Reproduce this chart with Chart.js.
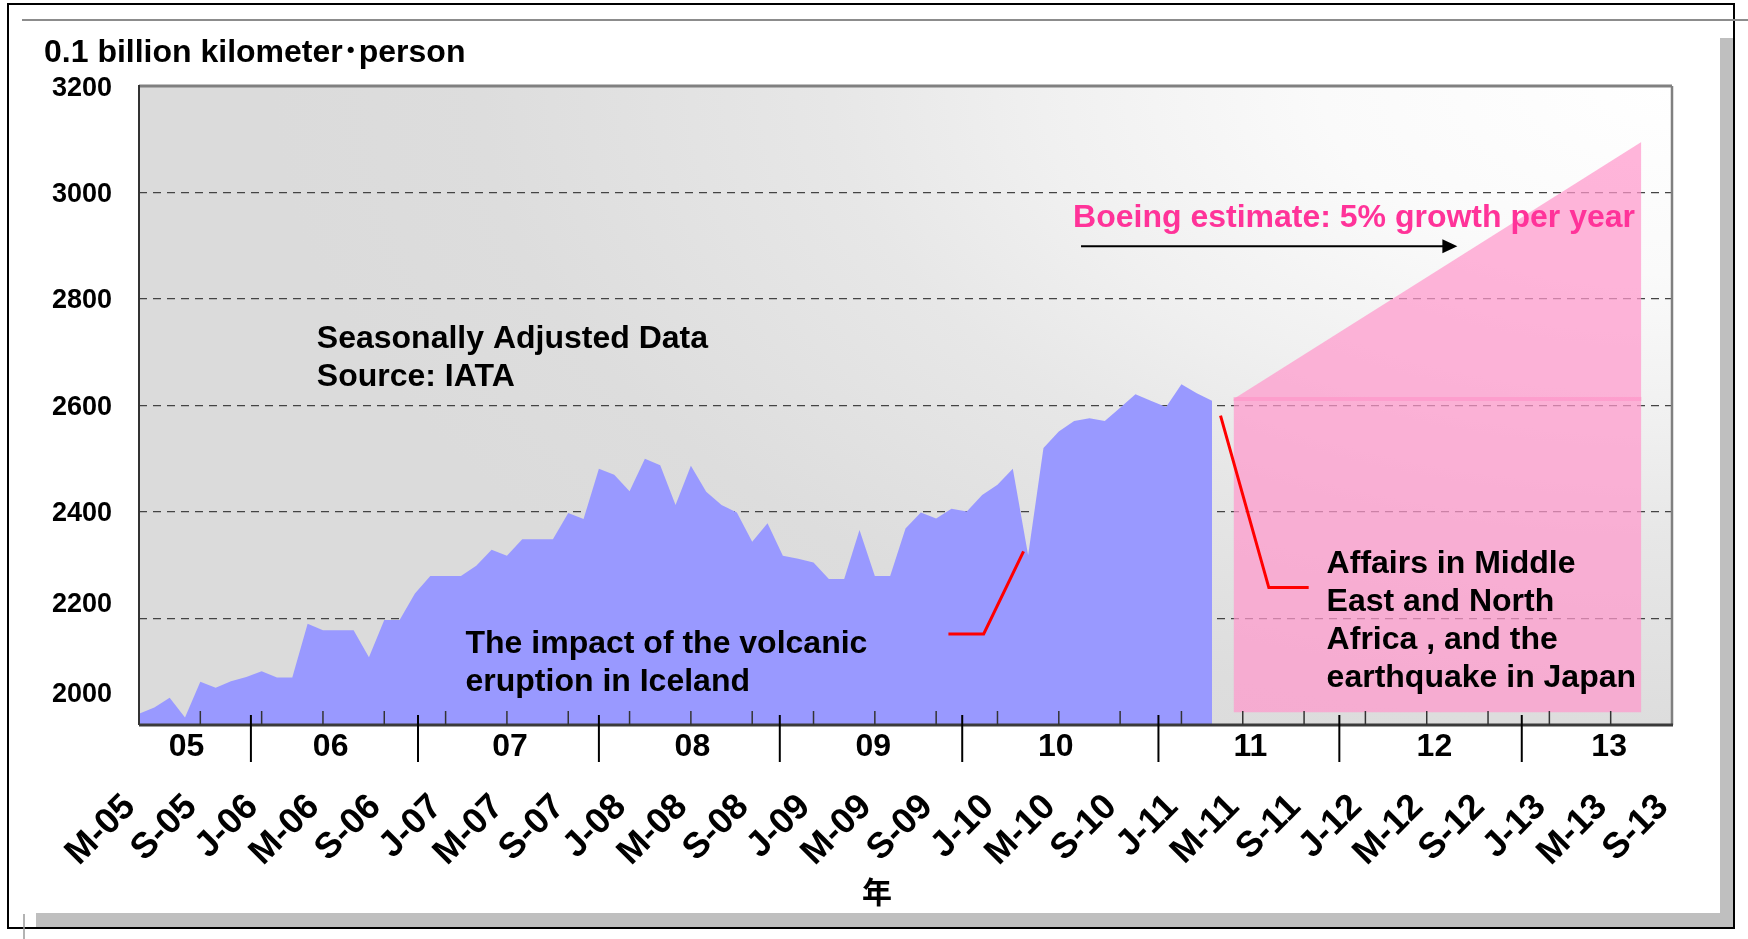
<!DOCTYPE html>
<html>
<head>
<meta charset="utf-8">
<title>International passenger traffic</title>
<script src="https://cdn.jsdelivr.net/npm/chart.js@4.4.1/dist/chart.umd.min.js"></script>
<style>
  html, body { margin: 0; padding: 0; background: #fff; }
  #wrap { width: 1748px; height: 939px; }
</style>
</head>
<body>
<div id="wrap"><canvas id="paxChart" width="1748" height="939"></canvas></div>
<script>
// seasonally adjusted traffic, 0.1 billion km-person, monthly from May-05 to Mar-11
const traffic = [
  2021, 2033, 2051, 2014, 2081, 2070, 2082, 2090, 2101, 2089,
  2089, 2190, 2178, 2178, 2178, 2127, 2197, 2197, 2247, 2280,
  2280, 2280, 2299, 2329, 2318, 2349, 2349, 2349, 2398, 2387,
  2481, 2470, 2439, 2500, 2488, 2413, 2487, 2438, 2413, 2399,
  2344, 2379, 2318, 2312, 2305, 2274, 2274, 2366, 2280, 2280,
  2369, 2399, 2388, 2406, 2401, 2432, 2451, 2481, 2319, 2520,
  2551, 2571, 2576, 2571, 2596, 2621, 2609, 2597, 2640, 2623, 2609
];

// one label every 4 months
const tickLabels = ['M-05', 'S-05', 'J-06', 'M-06', 'S-06', 'J-07', 'M-07', 'S-07', 'J-08',
  'M-08', 'S-08', 'J-09', 'M-09', 'S-09', 'J-10', 'M-10', 'S-10', 'J-11', 'M-11', 'S-11',
  'J-12', 'M-12', 'S-12', 'J-13', 'M-13', 'S-13'];
const yearLabels = ['05', '06', '07', '08', '09', '10', '11', '12', '13'];
const yTickValues = [2000, 2200, 2400, 2600, 2800, 3000, 3200];

// Boeing projection band (month index / value)
const forecastX = [71.4, 98];
const forecastBase = [2612, 2612];
const forecastTop = [2612, 3095];
const forecastFloor = 2024;

const FONT = "'Liberation Sans', Arial, 'Noto Sans CJK JP', sans-serif";

function seg(ctx, pts) {
  ctx.beginPath();
  pts.forEach((p, i) => i ? ctx.lineTo(p[0], p[1]) : ctx.moveTo(p[0], p[1]));
  ctx.stroke();
}

const decor = {
  id: 'decor',
  beforeDraw(chart, args, o) {
    const { ctx, chartArea: a } = chart;
    ctx.save();
    ctx.fillStyle = '#fff';
    ctx.fillRect(0, 0, chart.width, chart.height);
    // drop shadow of the slide frame
    ctx.fillStyle = '#bfbfbf';
    ctx.fillRect(1720, 38, 14, 890);
    ctx.fillRect(36, 913, 1698, 15);
    ctx.strokeStyle = '#000';
    ctx.lineWidth = 2;
    ctx.strokeRect(8, 4, 1726, 924);
    ctx.strokeStyle = '#8c8c8c';
    seg(ctx, [[22, 20], [1748, 20]]);
    ctx.strokeStyle = '#9a9a9a';
    ctx.lineWidth = 1.5;
    seg(ctx, [[24, 914], [24, 939]]);

    // plot background: light in the top-right corner, grey elsewhere
    ctx.beginPath();
    ctx.rect(a.left, a.top, a.width, a.height);
    ctx.clip();
    ctx.translate(a.right, a.top);
    ctx.scale(1400, 750);
    const g = ctx.createRadialGradient(0, 0, 0, 0, 0, 1);
    g.addColorStop(0, '#ffffff');
    g.addColorStop(0.25, '#fafafa');
    g.addColorStop(0.45, '#f0f0f0');
    g.addColorStop(0.6, '#e7e7e7');
    g.addColorStop(0.85, '#dddddd');
    g.addColorStop(1, '#dbdbdb');
    ctx.fillStyle = g;
    ctx.fillRect(-2, -1, 3, 3);
    ctx.restore();
  },
  afterDraw(chart, args, o) {
    const { ctx, chartArea: a } = chart;
    const xs = chart.scales.x, ys = chart.scales.y;
    const P = (i, v) => [xs.getPixelForValue(i), ys.getPixelForValue(v)];
    ctx.save();

    // plot frame
    ctx.lineCap = 'butt';
    ctx.strokeStyle = '#808080';
    ctx.lineWidth = 3;
    seg(ctx, [[a.left, a.top], [a.right, a.top]]);
    ctx.lineWidth = 2.5;
    seg(ctx, [[a.right, a.top], [a.right, a.bottom]]);
    ctx.strokeStyle = '#333';
    ctx.lineWidth = 2;
    seg(ctx, [[a.left, a.top - 1], [a.left, a.bottom]]);
    ctx.strokeStyle = '#3a3a3a';
    ctx.lineWidth = 3;
    seg(ctx, [[a.left, a.bottom], [a.right + 1, a.bottom]]);

    // inward minor ticks every 4 months
    ctx.lineWidth = 1.5;
    ctx.strokeStyle = '#333';
    for (let m = 4; m < 100; m += 4) {
      const x = xs.getPixelForValue(m);
      seg(ctx, [[x, a.bottom - 14], [x, a.bottom]]);
    }

    // year band under the axis
    ctx.strokeStyle = '#000';
    ctx.lineWidth = 2;
    o.yearSepAt.forEach(m => {
      const x = xs.getPixelForValue(m);
      seg(ctx, [[x, a.bottom - 10], [x, a.bottom + 37]]);
    });
    ctx.fillStyle = '#000';
    ctx.font = 'bold 32px ' + FONT;
    ctx.textAlign = 'center';
    ctx.textBaseline = 'middle';
    yearLabels.forEach((t, i) => ctx.fillText(t, xs.getPixelForValue(o.yearLabelAt[i]), a.bottom + 22));

    // y tick labels (the two lowest sit a little above their lines)
    ctx.font = 'bold 27px ' + FONT;
    ctx.textAlign = 'right';
    yTickValues.forEach(v => {
      ctx.fillText(String(v), a.left - 27, ys.getPixelForValue(v) + 2 - (o.labelLift[v] || 0));
    });

    ctx.textAlign = 'left';
    ctx.font = 'bold 32px ' + FONT;
    ctx.fillText('0.1 billion kilometer\uff65person', 44, 53);

    ctx.font = 'bold 32px ' + FONT;
    o.notes.forEach(n => {
      ctx.fillStyle = n.color || '#000';
      n.lines.forEach((t, k) => {
        const [x, y] = P(n.at[0], n.at[1]);
        ctx.fillText(t, x, y + k * 38);
      });
    });

    ctx.textAlign = 'center';
    ctx.fillStyle = '#000';
    ctx.font = "bold 30px 'Noto Sans CJK JP', sans-serif";
    ctx.fillText('年', 877, 892);

    // red leader lines
    ctx.strokeStyle = '#ff0000';
    ctx.lineWidth = 3;
    o.leaders.forEach(l => seg(ctx, l.map(p => P(p[0], p[1]))));

    // growth arrow
    const [ax0, ay] = P(o.arrow[0], o.arrow[2]);
    const [ax1] = P(o.arrow[1], o.arrow[2]);
    ctx.strokeStyle = '#000';
    ctx.lineWidth = 2;
    seg(ctx, [[ax0, ay], [ax1 - 10, ay]]);
    ctx.fillStyle = '#000';
    ctx.beginPath();
    ctx.moveTo(ax1, ay);
    ctx.lineTo(ax1 - 15, ay - 7);
    ctx.lineTo(ax1 - 15, ay + 7);
    ctx.closePath();
    ctx.fill();
    ctx.restore();
  }
};

const pink = 'rgba(255, 153, 204, 0.72)';

new Chart(document.getElementById('paxChart'), {
  type: 'line',
  data: {
    datasets: [
      {
        label: 'Traffic',
        data: traffic.map((v, i) => ({ x: i, y: v })),
        backgroundColor: '#9999ff',
        borderWidth: 0,
        pointRadius: 0,
        fill: 'start'
      },
      {
        label: 'Boeing base',
        data: forecastX.map((x, i) => ({ x, y: forecastBase[i] })),
        backgroundColor: pink,
        borderColor: 'rgba(255, 140, 195, 0.5)',
        borderWidth: 4,
        pointRadius: 0,
        fill: { value: forecastFloor }
      },
      {
        label: 'Boeing growth',
        data: forecastX.map((x, i) => ({ x, y: forecastTop[i] })),
        backgroundColor: pink,
        borderWidth: 0,
        pointRadius: 0,
        fill: '-1'
      }
    ]
  },
  options: {
    responsive: false,
    animation: false,
    devicePixelRatio: 1,
    layout: { padding: { left: 139, right: 76, top: 86, bottom: 0 } },
    plugins: {
      legend: { display: false },
      tooltip: { enabled: false },
      decor: {
        yearLabelAt: [3.1, 12.5, 24.2, 36.1, 47.9, 59.8, 72.5, 84.5, 95.9],
        yearSepAt: [7.3, 18.2, 30.0, 41.8, 53.7, 66.5, 78.3, 90.2],
        labelLift: { 3200: -1, 2200: 16, 2000: 32 },
        notes: [
          { at: [11.6, 2725], lines: ['Seasonally Adjusted Data', 'Source: IATA'] },
          { at: [21.3, 2152], lines: ['The impact of the volcanic', 'eruption in Iceland'] },
          { at: [77.47, 2302], lines: ['Affairs in Middle', 'East and North', 'Africa , and the', 'earthquake in Japan'] },
          { at: [60.93, 2952], lines: ['Boeing estimate: 5% growth per year'], color: '#ff3399' }
        ],
        leaders: [
          [[52.8, 2171], [55.1, 2171], [57.7, 2326]],
          [[70.55, 2581], [73.7, 2258], [76.3, 2258]]
        ],
        arrow: [61.45, 86.0, 2899]
      }
    },
    scales: {
      x: {
        type: 'linear',
        min: 0,
        max: 100,
        afterFit: s => { s.height = 214; s.paddingLeft = 0; s.paddingRight = 0; },
        grid: { display: false },
        border: { display: false },
        ticks: {
          stepSize: 4,
          autoSkip: false,
          minRotation: 45,
          maxRotation: 45,
          padding: 53,
          labelOffset: -9,
          color: '#000',
          font: { family: FONT, size: 36, weight: 'bold' },
          callback: v => tickLabels[v / 4]
        }
      },
      y: {
        min: 2000,
        max: 3200,
        afterFit: s => { s.width = 0; },
        border: { display: false, dash: [8, 6] },
        grid: {
          color: c => (c.tick.value === 2000 || c.tick.value === 3200) ? 'rgba(0,0,0,0)' : '#444',
          lineWidth: 1.3,
          drawTicks: false
        },
        ticks: { stepSize: 200, display: false }
      }
    }
  },
  plugins: [decor]
});
</script>
</body>
</html>
